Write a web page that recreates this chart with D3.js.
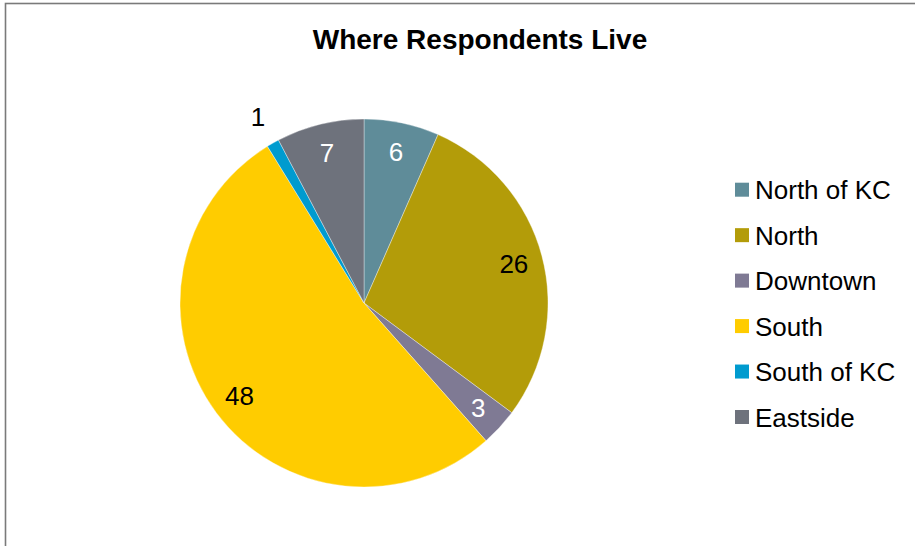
<!DOCTYPE html>
<html>
<head>
<meta charset="utf-8">
<script src="https://cdn.jsdelivr.net/npm/d3@7"></script>
<style>
  html, body { margin: 0; padding: 0; background: #fff; }
  svg { display: block; font-family: "Liberation Sans", Arial, sans-serif; }
</style>
</head>
<body>
<svg id="chart" width="915" height="546"></svg>
<script>
const categories = ["North of KC", "North", "Downtown", "South", "South of KC", "Eastside"];
const values = [6, 26, 3, 48, 1, 7];
const colors = ["#5F8C99", "#B39C09", "#7F7A94", "#FFCC00", "#009BCF", "#6E727C"];
const labelColors = ["#fff", "#000", "#fff", "#000", "#000", "#fff"];
const title = "Where Respondents Live";

const svg = d3.select("#chart");

// outer frame
svg.append("rect")
  .attr("x", 5.5).attr("y", 3.5)
  .attr("width", 1200).attr("height", 1200)
  .attr("fill", "none")
  .attr("stroke", "#7a7a7a")
  .attr("stroke-width", 1.6);

svg.append("text")
  .attr("x", 480).attr("y", 49)
  .attr("text-anchor", "middle")
  .attr("font-size", 28)
  .attr("font-weight", "bold")
  .attr("fill", "#000")
  .text(title);

const cx = 364, cy = 303, R = 184;
const data = categories.map((c, i) => ({ name: c, value: values[i], color: colors[i], lc: labelColors[i] }));

const pie = d3.pie().value(d => d.value).sort(null);
const arcs = pie(data);
const arc = d3.arc().innerRadius(0).outerRadius(R);
const labelArc = d3.arc().innerRadius(155).outerRadius(155);
const outerLabelArc = d3.arc().innerRadius(214).outerRadius(214);

const g = svg.append("g").attr("transform", `translate(${cx},${cy})`);
g.selectAll("path").data(arcs).enter().append("path")
  .attr("d", arc)
  .attr("fill", d => d.data.color)
  .attr("stroke", "rgba(255,255,255,0.6)")
  .attr("stroke-width", 0.6);

g.selectAll("text.lbl").data(arcs).enter().append("text")
  .attr("class", "lbl")
  .attr("transform", d => {
    const small = (d.endAngle - d.startAngle) < 0.1;
    const p = (small ? outerLabelArc : labelArc).centroid(d);
    return `translate(${p[0]},${p[1]})`;
  })
  .attr("text-anchor", "middle")
  .attr("dy", "0.36em")
  .attr("font-size", 26)
  .attr("fill", d => ((d.endAngle - d.startAngle) < 0.1) ? "#000" : d.data.lc)
  .text(d => d.data.value);

// legend
const legend = svg.append("g");
const rowY = d3.scaleLinear().domain([0, categories.length - 1]).range([182.7, 410]);
const items = legend.selectAll("g").data(data).enter().append("g")
  .attr("transform", (d, i) => `translate(735,${rowY(i)})`);
items.append("rect")
  .attr("width", 14).attr("height", 14)
  .attr("fill", d => d.color);
items.append("text")
  .attr("x", 20).attr("y", 16.5)
  .attr("font-size", 26)
  .attr("fill", "#000")
  .text(d => d.name);
</script>
</body>
</html>
